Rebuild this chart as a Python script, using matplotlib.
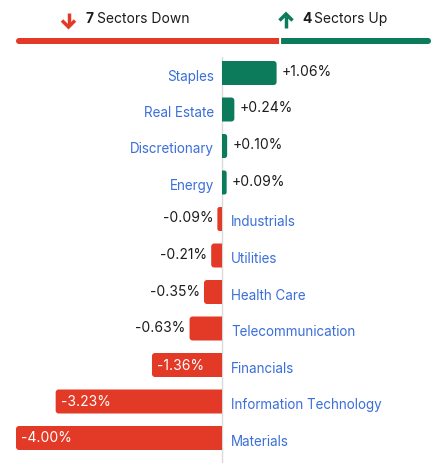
#!/usr/bin/env python3
"""Sector performance: horizontal diverging bars with up/down header."""

import numpy as np
import matplotlib
matplotlib.use("Agg")
import matplotlib.pyplot as plt
from matplotlib.patches import Polygon
from matplotlib.lines import Line2D

# data, top to bottom
sectors = ["Staples", "Real Estate", "Discretionary", "Energy", "Industrials",
           "Utilities", "Health Care", "Telecommunication", "Financials",
           "Information Technology", "Materials"]
changes = [1.06, 0.24, 0.10, 0.09, -0.09, -0.21, -0.35, -0.63, -1.36, -3.23, -4.00]
n_down = 7
n_up = 4

RED = "#E33A27"
GREEN = "#0B7B5B"
BLUE = "#3B6FD9"
DARK = "#1C1C1C"
FONT = ["Inter", "DejaVu Sans"]

W, H = 443, 463
plt.rcParams["font.family"] = FONT


def px_scale(ax):
    p0 = ax.transData.transform((0, 0))
    p1 = ax.transData.transform((1, 1))
    return abs(p1[0] - p0[0]), abs(p1[1] - p0[1])


def rounded_bar(ax, left, width, y, height, color, rad_px,
                round_left=True, round_right=True):
    """Bar as a polygon; corners rounded (in pixels) only on chosen ends."""
    sx, sy = px_scale(ax)
    if width < 0:
        left, width = left + width, -width
    r = min(rad_px, width * sx / 2, height * sy / 2)
    rx, ry = r / sx, r / sy
    x0, x1 = left, left + width
    y0, y1 = y - height / 2, y + height / 2
    corners = [((x1, y0), (x1 - rx, y0 + ry), -90, round_right),
               ((x1, y1), (x1 - rx, y1 - ry), 0, round_right),
               ((x0, y1), (x0 + rx, y1 - ry), 90, round_left),
               ((x0, y0), (x0 + rx, y0 + ry), 180, round_left)]
    pts = []
    for corner, (cx, cy), a0, rnd in corners:
        if rnd and r > 0:
            t = np.radians(np.linspace(a0, a0 + 90, 8))
            pts.extend(zip(cx + rx * np.cos(t), cy + ry * np.sin(t)))
        else:
            pts.append(corner)
    ax.add_patch(Polygon(pts, closed=True, fc=color, ec="none", lw=0, snap=False))


fig = plt.figure(figsize=(W / 100, H / 100), dpi=100)


def fpos(x, y):
    return x / W, 1 - y / H


def arrow(cx, y_tip, y_tail, color):
    # stem + chevron head, in pixel coords
    d = 1 if y_tip > y_tail else -1
    xs, ys = zip(fpos(cx, y_tail), fpos(cx, y_tip - d * 1.5))
    fig.add_artist(Line2D(xs, ys, color=color, lw=2.5, transform=fig.transFigure,
                          solid_capstyle="butt"))
    pts = [fpos(cx - 6.5, y_tip - d * 6.5), fpos(cx, y_tip), fpos(cx + 6.5, y_tip - d * 6.5)]
    xs, ys = zip(*pts)
    fig.add_artist(Line2D(xs, ys, color=color, lw=2.5, transform=fig.transFigure,
                          solid_capstyle="butt", solid_joinstyle="miter"))


# ---- header: counts and split bar
arrow(68.5, 27, 13, RED)
fig.text(*fpos(85, 19), str(n_down), color=DARK, fontsize=10, fontweight="bold",
         ha="left", va="center")
fig.text(*fpos(97, 19), "Sectors Down", color=DARK, fontsize=10,
         ha="left", va="center")
arrow(286, 14, 28, GREEN)
fig.text(*fpos(302, 19), str(n_up), color=DARK, fontsize=10, fontweight="bold",
         ha="left", va="center")
fig.text(*fpos(314, 19), "Sectors Up", color=DARK, fontsize=10,
         ha="left", va="center")

ax_h = fig.add_axes([16 / W, 1 - 44 / H, 415 / W, 6 / H])
ax_h.set_xlim(0, n_down + n_up)
ax_h.set_ylim(0, 1)
ax_h.axis("off")
gap = 1.0 / px_scale(ax_h)[0]
rounded_bar(ax_h, 0, n_down - gap, 0.5, 1, RED, 3, round_right=False)
rounded_bar(ax_h, n_down + gap, n_up - gap, 0.5, 1, GREEN, 3, round_left=False)

# ---- main bars
zero_px, pct_px = 222, 51.5
row0_px, row_px = 73, 36.5
ax = fig.add_axes([0, 0, 1, 1 - 57 / H])
ax.set_xlim(-zero_px / pct_px, (W - zero_px) / pct_px)
ax.set_ylim((H - row0_px) / row_px, (57 - row0_px) / row_px)
ax.axis("off")

sx, sy = px_scale(ax)
ax.axvline(0, color="#DADADA", lw=1, zorder=0)

for i, (name, val) in enumerate(zip(sectors, changes)):
    up = val > 0
    rounded_bar(ax, 0, val, i, 24 / sy, GREEN if up else RED, 3,
                round_left=not up, round_right=up)
    label = f"{val:+.2f}%"
    if up:
        ax.text(-8 / sx, i + 3.5 / sy, name, color=BLUE, fontsize=9.7,
                ha="right", va="center")
        ax.text(val + 5 / sx, i - 1 / sy, label, color=DARK, fontsize=10,
                ha="left", va="center")
    else:
        ax.text(9 / sx, i + 3.5 / sy, name, color=BLUE, fontsize=9.7,
                ha="left", va="center")
        if val <= -1:
            ax.text(val + 5 / sx, i + 0.5 / sy, label, color="white", fontsize=10,
                    ha="left", va="center")
        else:
            ax.text(val - 4 / sx, i - 0.5 / sy, label, color=DARK, fontsize=10,
                    ha="right", va="center")

fig.savefig("out.png", dpi=100)
